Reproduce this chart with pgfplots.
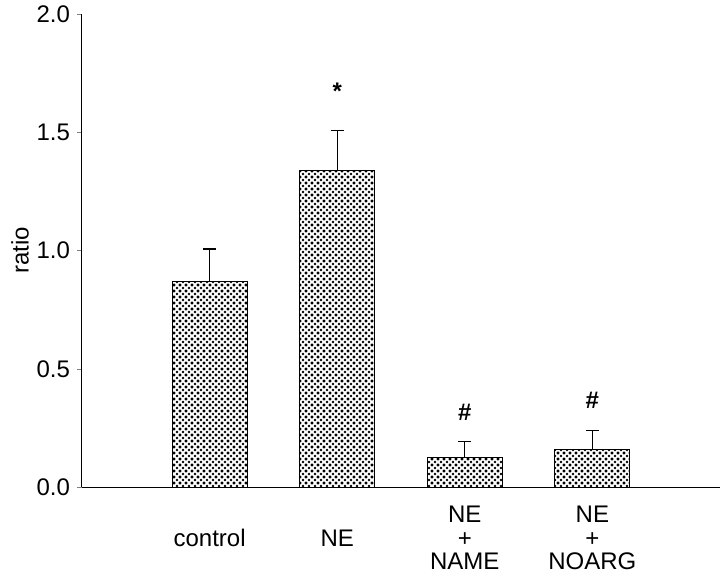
\documentclass[border=0pt]{standalone}
\usepackage{fontspec}
\setmainfont{Liberation Sans}
\usepackage{pgfplots}
\pgfplotsset{compat=1.18}
\usetikzlibrary{patterns}
\pgfdeclarepatternformonly{bigdots}{\pgfqpoint{-1pt}{-1pt}}{\pgfqpoint{4pt}{4pt}}{\pgfqpoint{3pt}{3pt}}{%
  \pgfpathcircle{\pgfqpoint{0pt}{0pt}}{0.65pt}%
  \pgfpathcircle{\pgfqpoint{1.5pt}{1.5pt}}{0.65pt}%
  \pgfpathcircle{\pgfqpoint{3pt}{0pt}}{0.65pt}%
  \pgfpathcircle{\pgfqpoint{0pt}{3pt}}{0.65pt}%
  \pgfpathcircle{\pgfqpoint{3pt}{3pt}}{0.65pt}%
  \pgfusepath{fill}}
\begin{document}
\begin{tikzpicture}
\begin{axis}[
  scale only axis,
  width=319pt, height=236.5pt,
  xmin=-1, xmax=4,
  ymin=0, ymax=2.0,
  axis x line=bottom, axis y line=left,
  axis line style={-, line width=0.5pt},
  xtick={0,1,2,3},
  xticklabels={control, NE, {NE\\+\\NAME}, {NE\\+\\NOARG}},
  x tick label style={align=center, anchor=center, yshift=-23pt,
    font=\fontsize{12}{11.7}\selectfont},
  major x tick style={draw=none},
  ytick={0,0.5,1.0,1.5,2.0},
  yticklabel style={/pgf/number format/fixed, /pgf/number format/fixed zerofill, /pgf/number format/precision=1,
    font=\fontsize{12}{14}\selectfont},
  /pgf/number format/assume math mode=true,
  tick align=outside,
  major tick length=2.5pt,
  ylabel={ratio},
  ylabel style={at={(axis description cs:-0.097,0.5)}, anchor=center,
    font=\fontsize{12}{14}\selectfont},
  clip=false,
]
\addplot[ybar, bar width=37.5pt, draw=black, line width=0.5pt,
  pattern=bigdots, pattern color=black,
  error bars/.cd, y dir=plus, y explicit,
  error mark options={mark size=3.25pt, line width=0.6pt, rotate=90},
  error bar style={line width=0.6pt}]
  table[x=x, y=y, y error=e] {
x y e
0 0.867 0.139
1 1.340 0.167
2 0.123 0.071
3 0.160 0.080
};
\addplot[draw=none, mark=none, nodes near coords, point meta=explicit symbolic,
  nodes near coords align={center},
  every node near coord/.append style={font=\fontsize{12}{14}\selectfont\bfseries}]
  coordinates {(1,1.675) [*] (2,0.317) [\#] (3,0.368) [\#]};
\end{axis}
\pgfresetboundingbox
\path[use as bounding box] ([xshift=-41pt,yshift=-49pt]current axis.south west) rectangle ([yshift=7pt]current axis.north east);
\end{tikzpicture}
\end{document}
